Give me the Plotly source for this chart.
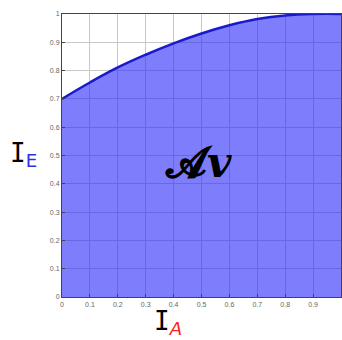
import plotly.graph_objects as go

ia = [0, 0.1, 0.2, 0.3, 0.4, 0.5, 0.6, 0.7, 0.8, 0.9, 1.0]
ie = [0.70, 0.758, 0.811, 0.856, 0.896, 0.931, 0.960, 0.982, 0.995, 1.0, 1.0]
tick_vals = [0, 0.1, 0.2, 0.3, 0.4, 0.5, 0.6, 0.7, 0.8, 0.9, 1]
tick_text = ["0", "0.1", "0.2", "0.3", "0.4", "0.5", "0.6", "0.7", "0.8", "0.9", "1"]

fig = go.Figure()
fig.add_trace(go.Scatter(
    x=ia, y=ie, mode="lines", line=dict(color="#1a1acc", width=2.5, shape="spline", smoothing=1.2),
    fill="tozeroy", fillcolor="rgba(40,40,250,0.6)", hoverinfo="skip", showlegend=False))

axis_common = dict(
    range=[0, 1], tickvals=tick_vals, ticktext=tick_text,
    showgrid=True, gridcolor="#c8c8c8", gridwidth=1,
    showline=True, linecolor="#444444", linewidth=1, mirror=True,
    ticks="inside", ticklen=3, tickcolor="#444444",
    tickfont=dict(family="Liberation Sans, Arial", size=7, color="#666666"),
    zeroline=False, fixedrange=True, automargin=False)

fig.update_layout(
    width=342, height=340,
    margin=dict(l=62, r=1, t=14, b=43, pad=0, autoexpand=False),
    paper_bgcolor="white", plot_bgcolor="white",
    xaxis=dict(**axis_common, ticklabelstandoff=1),
    yaxis=dict(**axis_common),
)

fig.add_annotation(xref="paper", yref="paper", x=0.49, y=0.475, xanchor="center", yanchor="middle",
                   text="𝓐<i>v</i>", showarrow=False,
                   font=dict(family="DejaVu Serif", size=42, color="black", weight="bold"))
fig.add_annotation(xref="paper", yref="paper", x=-0.195, y=0.505, xanchor="left", yanchor="middle",
                   text="I<sub><span style='font-family:DejaVu Sans;color:#3030dd'>E</span></sub>",
                   showarrow=False,
                   font=dict(family="DejaVu Sans Mono", size=26, color="black"))
fig.add_annotation(xref="paper", yref="paper", x=0.38, y=-0.025, xanchor="center", yanchor="top",
                   text="I<sub><i><span style='font-family:DejaVu Sans;color:#ff2020'>A</span></i></sub>",
                   showarrow=False,
                   font=dict(family="DejaVu Sans Mono", size=26, color="black"))

fig.write_html("out.html", config={"displayModeBar": False},
               post_script="document.body.style.margin='0';document.body.style.overflow='hidden';")
